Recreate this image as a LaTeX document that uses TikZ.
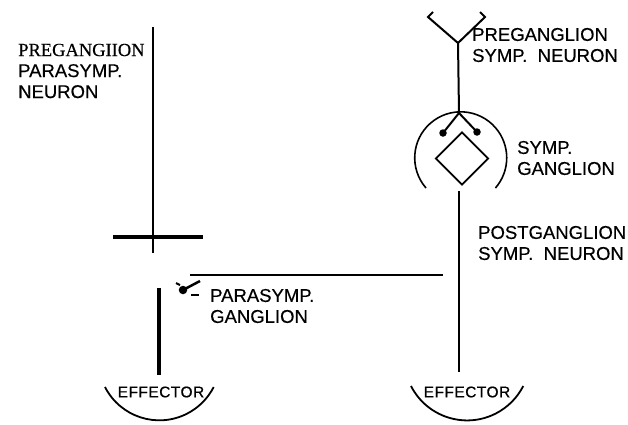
\documentclass[tikz,border=0pt]{standalone}
\usepackage{fontspec}
\setmainfont[FakeBold=0.4]{Liberation Sans}
\newfontfamily\serifcap[FakeBold=0.4]{Liberation Serif}
\newfontfamily\efffont[LetterSpace=3,FakeBold=0.6]{Liberation Sans}
\usepackage{tikz}
\usetikzlibrary{shapes.geometric}
\usetikzlibrary{positioning}

\begin{document}
\begin{tikzpicture}[x=1pt,y=-1pt,
  lbl/.style={inner sep=0pt, anchor=west, align=left, font=\fontsize{18.5}{21}\selectfont},
  eff/.style={inner sep=0pt, font=\efffont\fontsize{15.5}{15.5}\selectfont},
  nerve/.style={line width=2pt},
  bar/.style={line width=4pt},
  dot/.style={circle, fill, inner sep=0pt, minimum size=7.5pt}]
\useasboundingbox (0,0) rectangle (628,424);

% parasympathetic side
\node[lbl] (prepara) at (18,71) {{\serifcap\fontsize{18.5}{21}\selectfont PREGANGIION}\\PARASYMP.\\NEURON};
\coordinate (pretop) at (153,27);
\coordinate (prebot) at (153,253);
\draw[nerve] (pretop) -- (prebot);
\coordinate (barL) at (113,237);
\coordinate (barR) at (203,237);
\draw[bar] (barL) -- (barR);

\node[dot, minimum size=8.5pt] (paradot) at (183,290) {};
\coordinate (paratip) at (200,281);
\draw[line width=2.5pt] (paradot.center) -- (paratip);
\coordinate (tickA) at (176,283);
\coordinate (tickB) at (180,285);
\draw[line width=2pt] (tickA) -- (tickB);
\coordinate (dashA) at (191,295);
\coordinate (dashB) at (199,295);
\draw[line width=2.5pt] (dashA) -- (dashB);
\node[lbl] (paragang) at (210,306) {PARASYMP.\\GANGLION};

\coordinate (postLtop) at (159,288);
\coordinate (postLbot) at (159,375);
\draw[line width=3.5pt] (postLtop) -- (postLbot);
\node[eff] (effL) at (161,392) {EFFECTOR};
\draw[line width=1.8pt] (105,387) arc[start angle=153, end angle=27, radius=61];

% sympathetic side
\node[lbl] (presymp) at (472,45) {PREGANGLION\\SYMP.~~NEURON};
\coordinate (yjoin) at (458,43);
\coordinate (armL) at (428,17);
\coordinate (armR) at (485,17);
\draw[nerve] (433,12) -- (armL) -- (yjoin) -- (armR) -- (480,12);
\coordinate (gangtop) at (459,113);
\draw[nerve] (yjoin) -- (gangtop);
\draw[line width=1.6pt] (426,188) arc[start angle=139, end angle=401, radius=46];
\node[dot] (dotL) at (443,133) {};
\node[dot] (dotR) at (477,132) {};
\draw[nerve] (dotL.center) -- (gangtop) -- (dotR.center);
\node[diamond, draw, line width=1.8pt, minimum width=53pt, minimum height=53pt, inner sep=0pt] (symgang) at (462,158.5) {};
\node[lbl] (symglbl) at (517,158) {SYMP.\\GANGLION};

\coordinate (postRtop) at (459,191);
\coordinate (postRbot) at (459,372);
\draw[line width=2.5pt] (postRtop) -- (postRbot);
\node[lbl] (postsymp) at (478,243) {POSTGANGLION\\SYMP.~~NEURON};
\node[eff] (effR) at (467,392) {EFFECTOR};
\draw[line width=1.8pt] (411,386) arc[start angle=153, end angle=27, radius=63];

% link
\coordinate (linkL) at (190,275);
\coordinate (linkR) at (443,275);
\draw[line width=2.5pt] (linkL) -- (linkR);
\end{tikzpicture}
\end{document}
